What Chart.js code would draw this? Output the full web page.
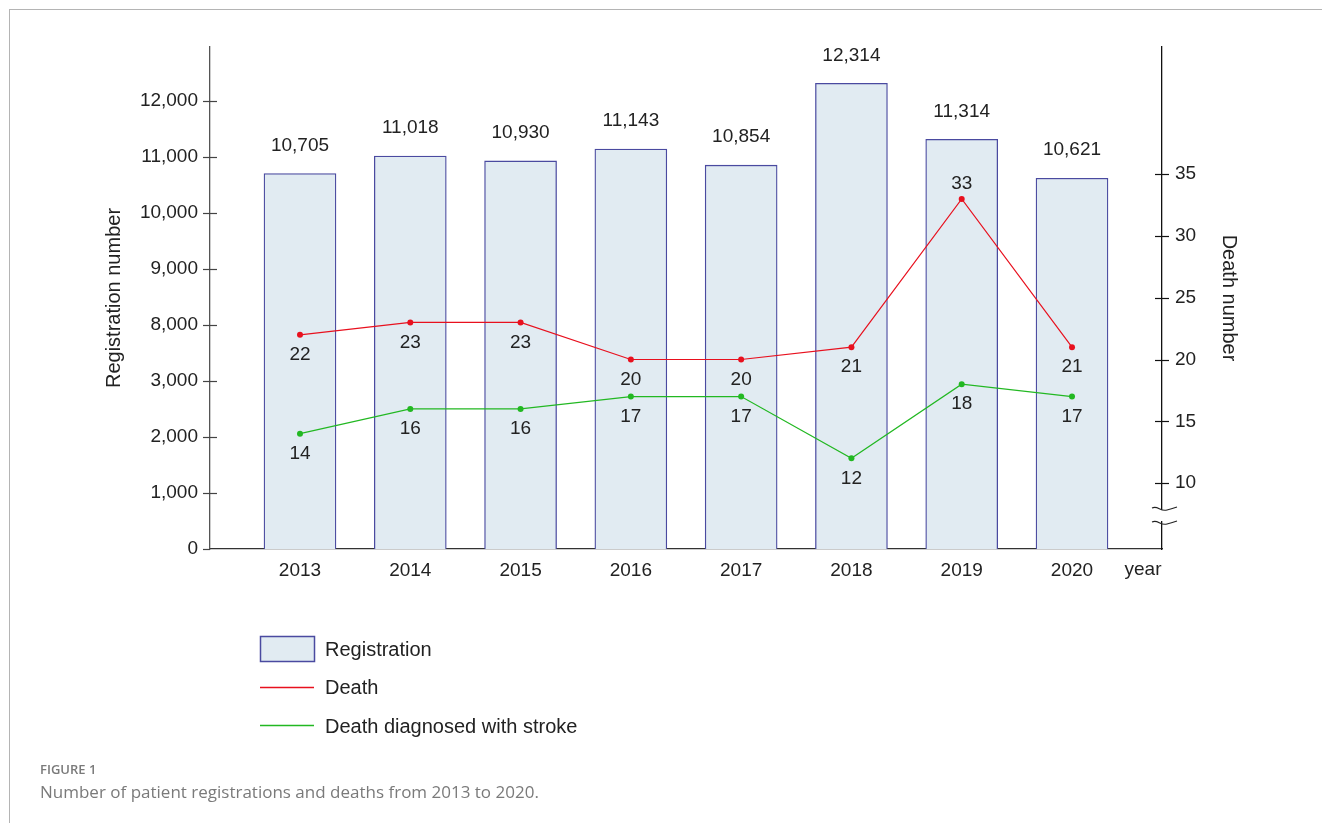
<!DOCTYPE html>
<html>
<head>
<meta charset="utf-8">
<script src="https://cdn.jsdelivr.net/npm/chart.js@4.4.0/dist/chart.umd.min.js"></script>
<style>
  body { margin: 0; background: #fff; width: 1322px; height: 823px; overflow: hidden; position: relative; font-family: "Liberation Sans", Arial, sans-serif; }
  #frame { position: absolute; left: 9px; top: 9px; width: 1400px; height: 900px; border-left: 1.5px solid #b4b4b4; border-top: 1.5px solid #b4b4b4; }
  canvas { position: absolute; left: 0; top: 0; }
  .leg { position: absolute; font-size: 20px; color: #222; line-height: 24px; }
  .cap1 { position: absolute; left: 40px; top: 760px; font-family: "Open Sans", sans-serif; font-size: 13px; font-weight: 600; color: #7a7a7a; }
  .cap2 { position: absolute; left: 40px; top: 780px; font-family: "Open Sans", sans-serif; font-size: 17px; color: #7a7a7a; }
</style>
</head>
<body>
<div id="frame"></div>
<canvas id="grafico" width="1322" height="823"></canvas>

<div class="leg" style="left:325px; top:637px;">Registration</div>
<div class="leg" style="left:325px; top:675px;">Death</div>
<div class="leg" style="left:325px; top:714px;">Death diagnosed with stroke</div>

<div class="cap1">FIGURE 1</div>
<div class="cap2">Number of patient registrations and deaths from 2013 to 2020.</div>

<script>
// dados do grafico
const years = [2013, 2014, 2015, 2016, 2017, 2018, 2019, 2020];
const registrations = [10705, 11018, 10930, 11143, 10854, 12314, 11314, 10621];
const deaths = [22, 23, 23, 20, 20, 21, 33, 21];
const strokeDeaths = [14, 16, 16, 17, 17, 12, 18, 17];
const leftTicks = [0, 1000, 2000, 3000, 8000, 9000, 10000, 11000, 12000];
const rightTicks = [10, 15, 20, 25, 30, 35];

const FONT = "Liberation Sans, Arial, sans-serif";
const RED = "#e8101e";
const GREEN = "#22b822";
const BAR_FILL = "#e1ebf2";
const BAR_LINE = "#4a4aa0";

// eixo esquerdo quebrado (3,000 -> 8,000): cada tick ocupa um passo igual
function toAxis(v) {
  for (let i = 0; i < leftTicks.length - 1; i++) {
    if (v < leftTicks[i + 1]) {
      return i + (v - leftTicks[i]) / (leftTicks[i + 1] - leftTicks[i]);
    }
  }
  const n = leftTicks.length - 1;
  return n + (v - leftTicks[n]) / (leftTicks[n] - leftTicks[n - 1]);
}

const fmt = (v) => v.toLocaleString("en-US");

const extras = {
  id: "extras",
  afterDatasetsDraw(chart) {
    const c = chart.ctx;
    c.save();
    c.font = "19px " + FONT;
    c.fillStyle = "#222";
    c.textAlign = "center";
    c.textBaseline = "middle";

    // valores das barras
    chart.getDatasetMeta(2).data.forEach((bar, i) => {
      c.fillText(fmt(registrations[i]), bar.x, bar.y - 28);
    });

    // valores das linhas
    [[0, deaths], [1, strokeDeaths]].forEach(([idx, vals]) => {
      const max = Math.max(...vals);
      chart.getDatasetMeta(idx).data.forEach((pt, i) => {
        const above = vals[i] === max && idx === 0;
        c.fillText(String(vals[i]), pt.x, above ? pt.y - 15 : pt.y + 20);
      });
    });
    c.restore();
  },
  afterDraw(chart) {
    const c = chart.ctx;
    const a = chart.chartArea;
    const yl = chart.scales.y;
    const yr = chart.scales.y1;
    c.save();

    // marcas dos ticks (cruzando o eixo)
    c.lineWidth = 1.2;
    c.strokeStyle = "#444";
    leftTicks.forEach((t, i) => {
      const y = Math.round(yl.getPixelForValue(i)) + 0.5;
      c.beginPath(); c.moveTo(a.left - 7, y); c.lineTo(a.left + (i === 0 ? 0 : 7), y); c.stroke();
    });
    c.strokeStyle = "#111";
    rightTicks.forEach((t) => {
      const y = Math.round(yr.getPixelForValue(t)) + 0.5;
      c.beginPath(); c.moveTo(a.right - 7, y); c.lineTo(a.right + 7, y); c.stroke();
    });

    // quebra do eixo direito
    c.fillStyle = "#fff";
    c.fillRect(a.right - 3, 510, 6, 11);
    c.strokeStyle = "#222";
    c.lineWidth = 1.1;
    [508, 522].forEach((y0) => {
      c.beginPath();
      c.moveTo(a.right - 10, y0);
      c.bezierCurveTo(a.right - 4, y0 - 3, a.right - 2, y0 + 4, a.right + 5, y0 + 2);
      c.quadraticCurveTo(a.right + 9, y0 + 1, a.right + 15, y0 - 1);
      c.stroke();
    });

    // titulos dos eixos
    c.fillStyle = "#222";
    c.font = "20px " + FONT;
    c.textAlign = "center";
    c.textBaseline = "middle";
    const midY = (a.top + a.bottom) / 2;
    c.save();
    c.translate(114, midY);
    c.rotate(-Math.PI / 2);
    c.fillText("Registration number", 0, 0);
    c.restore();
    c.save();
    c.translate(1229, midY);
    c.rotate(Math.PI / 2);
    c.fillText("Death number", 0, 0);
    c.restore();

    c.font = "19px " + FONT;
    c.fillText("year", 1143, 570);

    // simbolos da legenda
    c.fillStyle = BAR_FILL;
    c.fillRect(260, 636, 55, 26);
    c.strokeStyle = BAR_LINE;
    c.lineWidth = 1.5;
    c.strokeRect(260.5, 636.5, 54, 25);
    c.lineWidth = 1.3;
    c.strokeStyle = RED;
    c.beginPath(); c.moveTo(260, 687.5); c.lineTo(314, 687.5); c.stroke();
    c.strokeStyle = GREEN;
    c.beginPath(); c.moveTo(260, 725.5); c.lineTo(314, 725.5); c.stroke();
    c.restore();
  },
};

const config_grafico = {
  type: "bar",
  data: {
    datasets: [
      {
        type: "line",
        label: "Death",
        data: years.map((x, i) => ({ x: x, y: deaths[i] })),
        yAxisID: "y1",
        borderColor: RED,
        backgroundColor: RED,
        borderWidth: 1.2,
        pointRadius: 3,
        pointBorderWidth: 0,
        order: 1,
      },
      {
        type: "line",
        label: "Death diagnosed with stroke",
        data: years.map((x, i) => ({ x: x, y: strokeDeaths[i] })),
        yAxisID: "y1",
        borderColor: GREEN,
        backgroundColor: GREEN,
        borderWidth: 1.2,
        pointRadius: 3,
        pointBorderWidth: 0,
        order: 2,
      },
      {
        type: "bar",
        label: "Registration",
        data: years.map((x, i) => ({ x: x, y: toAxis(registrations[i]) })),
        yAxisID: "y",
        backgroundColor: BAR_FILL,
        borderColor: BAR_LINE,
        borderWidth: 1.3,
        barThickness: 72,
        order: 3,
      },
    ],
  },
  options: {
    responsive: false,
    animation: false,
    layout: { padding: { top: 47, left: 0, right: 0, bottom: 0 } },
    plugins: {
      legend: { display: false },
      tooltip: { enabled: false },
    },
    scales: {
      x: {
        type: "linear",
        position: "bottom",
        offset: false,
        min: 2012.184,
        max: 2020.816,
        afterFit(s) { s.height = 274; },
        afterBuildTicks(s) { s.ticks = years.map((v) => ({ value: v })); },
        grid: { display: false, drawTicks: false, offset: false },
        border: { color: "#333", width: 1.3 },
        ticks: {
          autoSkip: false,
          maxRotation: 0,
          padding: 10,
          color: "#222",
          font: { family: FONT, size: 19 },
          callback: (v) => String(v),
        },
      },
      y: {
        type: "linear",
        position: "left",
        min: 0,
        max: 8.964,
        afterFit(s) { s.width = 210; },
        afterBuildTicks(s) { s.ticks = leftTicks.map((t, i) => ({ value: i })); },
        grid: { display: false, drawTicks: false },
        border: { color: "#555", width: 1.3 },
        ticks: {
          padding: 12,
          color: "#222",
          font: { family: FONT, size: 19 },
          callback: (v, i) => fmt(leftTicks[i]),
        },
      },
      y1: {
        type: "linear",
        position: "right",
        min: 4.66,
        max: 45.3,
        afterFit(s) { s.width = 160; },
        afterBuildTicks(s) { s.ticks = rightTicks.map((t) => ({ value: t })); },
        grid: { display: false, drawTicks: false },
        border: { color: "#111", width: 1.3 },
        ticks: {
          padding: 13,
          color: "#222",
          font: { family: FONT, size: 19 },
          callback: (v) => String(v),
        },
      },
    },
  },
  plugins: [extras],
};

const myChart = new Chart(document.getElementById("grafico"), config_grafico);
</script>
</body>
</html>
